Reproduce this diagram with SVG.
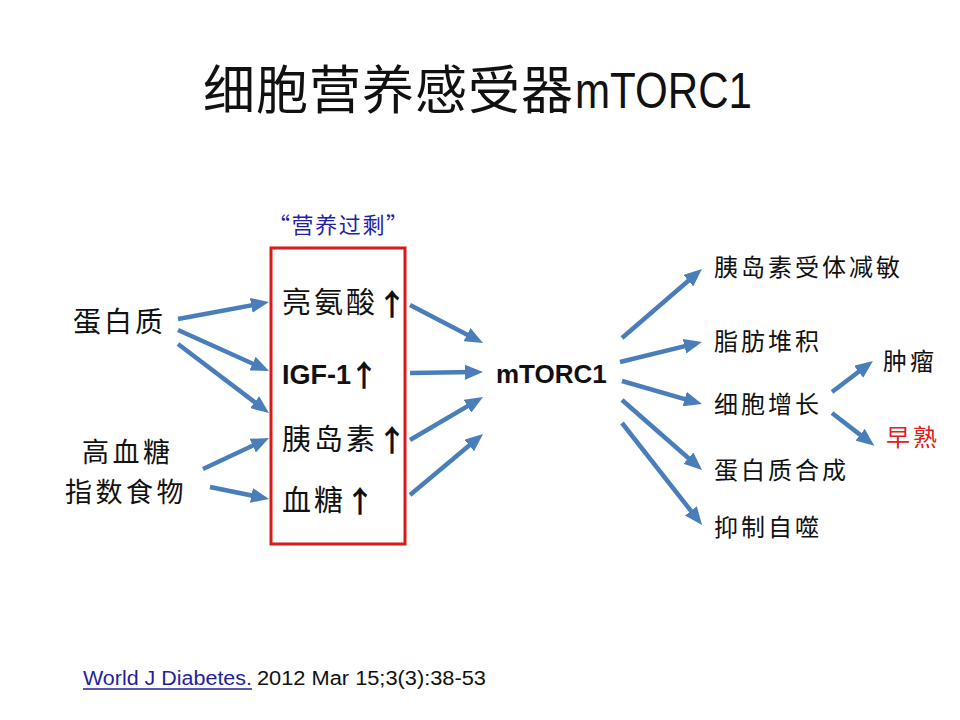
<svg xmlns="http://www.w3.org/2000/svg" width="960" height="720" viewBox="0 0 960 720">
<defs>
<marker id="ah" markerUnits="userSpaceOnUse" markerWidth="18" markerHeight="15" refX="10" refY="7.5" orient="auto">
<path d="M0,0 L18,7.5 L0,15 z" fill="#4a7ebb"/>
</marker>
<style>
.cn{font-family:"Noto Sans CJK SC","Noto Sans",sans-serif;fill:#111}
.lat{font-family:"Liberation Sans",Arial,sans-serif;fill:#111}
.ar line{stroke:#4a7ebb;stroke-width:4.5;marker-end:url(#ah)}
.up{font-family:"Noto Sans CJK SC",sans-serif;font-weight:bold;fill:#111;font-size:30px}
</style>
</defs>
<rect width="960" height="720" fill="#ffffff"/>
<g id="title">
<text class="cn" x="203" y="109" font-size="52" letter-spacing="1">细胞营养感受器</text>
<text class="lat" x="575" y="108" font-size="50" textLength="177" lengthAdjust="spacingAndGlyphs">mTORC1</text>
</g>
<g id="excess-label">
<text x="268" y="233" font-family="Noto Sans CJK SC,sans-serif" font-size="22" fill="#1f1fa8" textLength="140" lengthAdjust="spacing">“营养过剩”</text>
</g>
<g id="box">
<rect x="271" y="248" width="134" height="296" fill="none" stroke="#d71a1a" stroke-width="3"/>
</g>
<g id="protein"><text class="cn" x="73" y="332" font-size="28" letter-spacing="3">蛋白质</text></g>
<g id="high-gi">
<text class="cn" x="82" y="462" font-size="27" letter-spacing="3.5">高血糖</text>
<text class="cn" x="65" y="502" font-size="27" letter-spacing="3.5">指数食物</text>
</g>
<g id="leucine"><text class="cn" x="282" y="313" font-size="29" letter-spacing="3">亮氨酸</text><text class="up" x="377" y="315">↑</text></g>
<g id="igf1"><text class="lat" x="282" y="384" font-size="27" font-weight="bold">IGF-1</text><text class="up" x="349" y="386">↑</text></g>
<g id="insulin"><text class="cn" x="282" y="450" font-size="29" letter-spacing="3">胰岛素</text><text class="up" x="377" y="451">↑</text></g>
<g id="glucose"><text class="cn" x="282" y="511" font-size="29" letter-spacing="3">血糖</text><text class="up" x="345" y="512">↑</text></g>
<g id="mtorc1"><text class="lat" x="496" y="383" font-size="26" font-weight="bold">mTORC1</text></g>
<g id="out1"><text class="cn" x="714" y="276" font-size="24" letter-spacing="3">胰岛素受体减敏</text></g>
<g id="out2"><text class="cn" x="714" y="350" font-size="24" letter-spacing="3">脂肪堆积</text></g>
<g id="out3"><text class="cn" x="714" y="413" font-size="24" letter-spacing="3">细胞增长</text></g>
<g id="out4"><text class="cn" x="714" y="479" font-size="24" letter-spacing="3">蛋白质合成</text></g>
<g id="out5"><text class="cn" x="714" y="536" font-size="24" letter-spacing="3">抑制自噬</text></g>
<g id="tumor"><text class="cn" x="883" y="370" font-size="24" letter-spacing="3">肿瘤</text></g>
<g id="precocity"><text x="886" y="446" font-family="Noto Sans CJK SC,sans-serif" font-size="24" letter-spacing="3" fill="#e02020">早熟</text></g>
<g id="connectors" class="ar">
<line x1="178" y1="319" x2="261.1" y2="303.5"/>
<line x1="178" y1="330" x2="261.7" y2="367.7"/>
<line x1="178" y1="344" x2="262.6" y2="408.2"/>
<line x1="203" y1="469" x2="261.8" y2="441.4"/>
<line x1="210" y1="487" x2="261.2" y2="497.4"/>
<line x1="410" y1="305" x2="475.9" y2="339.3"/>
<line x1="410" y1="373" x2="475" y2="372.1"/>
<line x1="410" y1="440" x2="476.1" y2="401.1"/>
<line x1="410" y1="495" x2="476.9" y2="439.1"/>
<line x1="622" y1="338" x2="695.9" y2="274.2"/>
<line x1="620" y1="362" x2="694.2" y2="343.9"/>
<line x1="622" y1="381" x2="694.3" y2="401.8"/>
<line x1="622" y1="400" x2="696" y2="464.7"/>
<line x1="622" y1="423" x2="697.1" y2="518.7"/>
<line x1="832" y1="392" x2="866.6" y2="365.8"/>
<line x1="832" y1="413" x2="868" y2="440.9"/>
</g>
<g id="citation">
<text x="83" y="685" font-family="Liberation Sans,Arial,sans-serif" font-size="20" fill="#1f1fa0" textLength="169" lengthAdjust="spacingAndGlyphs">World J Diabetes.</text>
<line x1="83" y1="689" x2="252" y2="689" stroke="#1f1fa0" stroke-width="1.5"/>
<text class="lat" x="257" y="685" font-size="20" textLength="229" lengthAdjust="spacingAndGlyphs">2012 Mar 15;3(3):38-53</text>
</g>
</svg>
